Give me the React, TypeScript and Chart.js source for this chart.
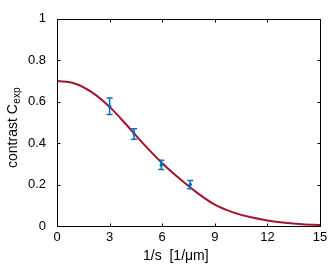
import React, { useEffect, useRef } from "react";
import { Chart, registerables } from "chart.js";

Chart.register(...registerables);

const curveX = [0, 1, 2, 3, 4, 5, 6, 7, 8, 9, 10, 11, 12, 13, 14, 15];
const curveY = [0.7, 0.688, 0.645, 0.575, 0.485, 0.39, 0.303, 0.228, 0.16, 0.103, 0.067, 0.043, 0.027, 0.016, 0.009, 0.005];

const pointX = [3.0, 4.4, 5.95, 7.6];
const pointY = [0.578, 0.444, 0.295, 0.2];
const pointErr = [0.04, 0.025, 0.022, 0.02];

const xTicks = [0, 3, 6, 9, 12, 15];
const yTicks = [0, 0.2, 0.4, 0.6, 0.8, 1];

const xTitle = "1/s  [1/\u03bcm]";
const yTitleMain = "contrast C";
const yTitleSub = "exp";

const FONT = "'Liberation Sans', Arial, Helvetica, sans-serif";
const RED = "#A2142F";
const BLUE = "#0072BD";

export default function App() {
  const ref = useRef<HTMLCanvasElement | null>(null);
  useEffect(() => {
    if (!ref.current) return;
    const framePlugin = {
      id: "frame",
      afterDatasetsDraw(chart: any) {
        const ctx = chart.ctx;
        const xs = chart.scales.x;
        const ys = chart.scales.y;
        ctx.save();
        ctx.strokeStyle = BLUE;
        ctx.lineWidth = 1.5;
        for (let i = 0; i < pointX.length; i++) {
          const px = xs.getPixelForValue(pointX[i]);
          const top = ys.getPixelForValue(pointY[i] + pointErr[i]);
          const bot = ys.getPixelForValue(pointY[i] - pointErr[i]);
          ctx.beginPath();
          ctx.moveTo(px, top);
          ctx.lineTo(px, bot);
          ctx.moveTo(px - 3, top);
          ctx.lineTo(px + 3, top);
          ctx.moveTo(px - 3, bot);
          ctx.lineTo(px + 3, bot);
          ctx.stroke();
          ctx.fillStyle = BLUE;
          ctx.beginPath();
          ctx.arc(px, ys.getPixelForValue(pointY[i]), 1.8, 0, Math.PI * 2);
          ctx.fill();
        }
        ctx.restore();
      },
      afterDraw(chart: any) {
        const ctx = chart.ctx;
        const xs = chart.scales.x;
        const ys = chart.scales.y;
        const a = chart.chartArea;
        ctx.save();
        ctx.strokeStyle = "#000";
        ctx.lineWidth = 1;
        const L = Math.round(a.left) + 0.5;
        const R = Math.round(a.right) + 0.5;
        const T = Math.round(a.top) + 0.5;
        const B = Math.round(a.bottom) + 0.5;
        ctx.beginPath();
        ctx.rect(L, T, R - L, B - T);
        ctx.stroke();
        const tl = 3;
        ctx.beginPath();
        for (const v of xTicks) {
          const px = Math.round(xs.getPixelForValue(v)) + 0.5;
          ctx.moveTo(px, B);
          ctx.lineTo(px, B - tl);
          ctx.moveTo(px, T);
          ctx.lineTo(px, T + tl);
        }
        for (const v of yTicks) {
          const py = Math.round(ys.getPixelForValue(v)) + 0.5;
          ctx.moveTo(L, py);
          ctx.lineTo(L + tl, py);
          ctx.moveTo(R, py);
          ctx.lineTo(R - tl, py);
        }
        ctx.stroke();
        ctx.fillStyle = "#000";
        ctx.font = "14px " + FONT;
        ctx.textBaseline = "middle";
        ctx.textAlign = "left";
        ctx.fillText(xTitle, 143, 256);
        ctx.translate(13, 128);
        ctx.rotate(-Math.PI / 2);
        ctx.font = "14px " + FONT;
        const wMain = ctx.measureText(yTitleMain).width;
        ctx.font = "10px " + FONT;
        const wSub = ctx.measureText(yTitleSub).width;
        const start = -(wMain + wSub) / 2;
        ctx.font = "14px " + FONT;
        ctx.fillText(yTitleMain, start, 0);
        ctx.font = "10px " + FONT;
        ctx.fillText(yTitleSub, start + wMain + 0.5, 4.5);
        ctx.restore();
      },
    };

    const chart = new Chart(ref.current, {
      type: "scatter",
      data: {
        datasets: [
          {
            type: "line",
            data: curveX.map((x, i) => ({ x, y: curveY[i] })),
            borderColor: RED,
            borderWidth: 2,
            pointRadius: 0,
            cubicInterpolationMode: "monotone",
            fill: false,
          } as any,
        ],
      },
      options: {
        responsive: false,
        animation: false,
        layout: { padding: { left: 0, top: 12, right: 14, bottom: 0 } },
        plugins: { legend: { display: false }, tooltip: { enabled: false } },
        scales: {
          x: {
            type: "linear",
            min: 0,
            max: 15,
            grid: { display: false, drawTicks: false },
            border: { display: false },
            afterBuildTicks: (s: any) => {
              s.ticks = xTicks.map((v) => ({ value: v }));
            },
            afterFit: (s: any) => {
              s.height = 49;
            },
            ticks: {
              padding: 4,
              color: "#000",
              font: { family: FONT, size: 13 },
              maxRotation: 0,
              autoSkip: false,
              callback: (v: any) => String(v),
            },
          },
          y: {
            type: "linear",
            min: 0,
            max: 1,
            grid: { display: false, drawTicks: false },
            border: { display: false },
            afterBuildTicks: (s: any) => {
              s.ticks = yTicks.map((v) => ({ value: v }));
            },
            afterFit: (s: any) => {
              s.width = 57;
            },
            ticks: {
              padding: 11,
              color: "#000",
              font: { family: FONT, size: 13 },
              autoSkip: false,
              callback: (v: any) => String(v),
            },
          },
        },
      },
      plugins: [framePlugin],
    });
    return () => chart.destroy();
  }, []);

  return (
    <div style={{ position: "fixed", left: 0, top: 0, width: 334, height: 275, background: "#fff" }}>
      <canvas ref={ref} width={334} height={275} style={{ display: "block" }} />
    </div>
  );
}
